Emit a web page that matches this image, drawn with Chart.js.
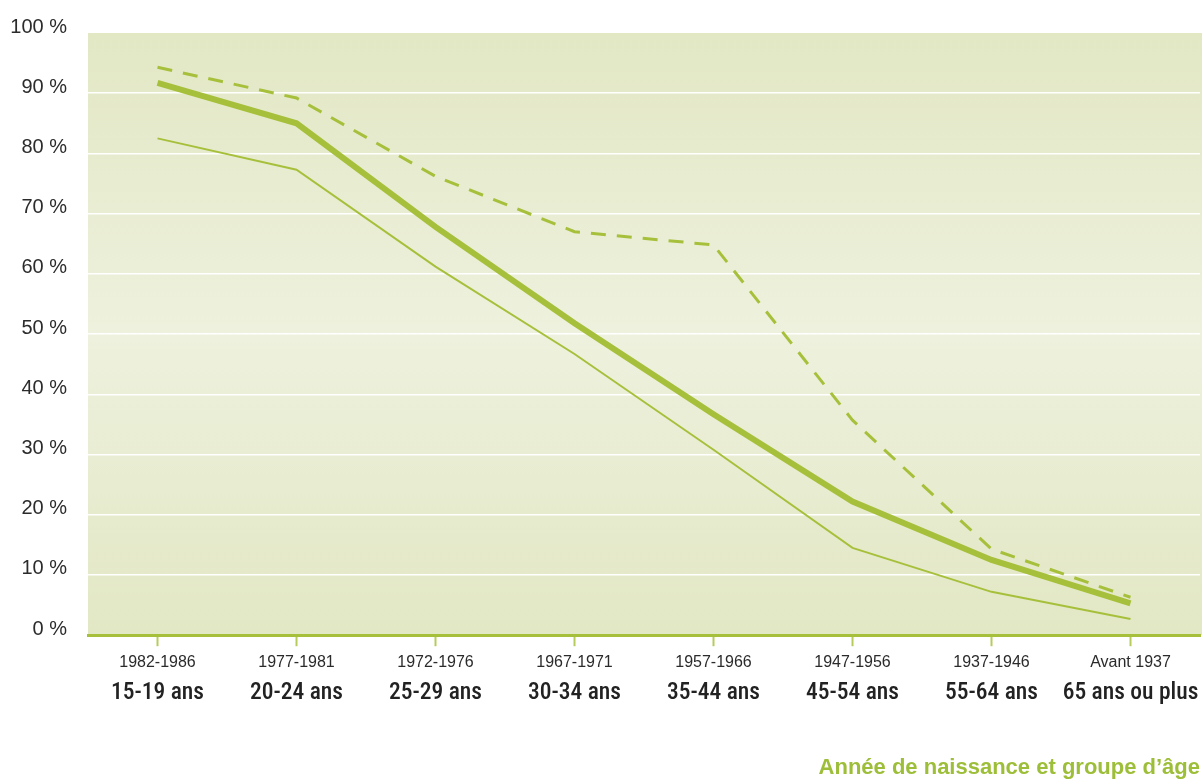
<!DOCTYPE html>
<html>
<head>
<meta charset="utf-8">
<script src="https://cdn.jsdelivr.net/npm/chart.js@4/dist/chart.umd.min.js"></script>
<style>
    html, body { margin: 0; padding: 0; background: #fff; }
    #wrap { width: 1202px; height: 781px; }
</style>
</head>
<body>
<div id="wrap"><canvas id="chart"></canvas></div>
<script>
// Categories: birth years and age groups
const birthYears = ['1982-1986', '1977-1981', '1972-1976', '1967-1971', '1957-1966', '1947-1956', '1937-1946', 'Avant 1937'];
const ageGroups = ['15-19 ans', '20-24 ans', '25-29 ans', '30-34 ans', '35-44 ans', '45-54 ans', '55-64 ans', '65 ans ou plus'];

// Values (%)
const upperValues = [94.3, 89.2, 76.2, 67.0, 64.8, 35.7, 14.3, 6.3];
const mainValues  = [91.7, 85.0, 67.8, 51.8, 36.7, 22.2, 12.5, 5.3];
const lowerValues = [82.5, 77.3, 61.2, 46.7, 30.8, 14.5, 7.2, 2.7];

const green = '#a6c03c';
const textColor = '#2b2b2b';
const fontFamily = '"Liberation Sans", Arial, sans-serif';
const condensedFamily = '"Roboto Condensed", "Liberation Sans", sans-serif';

// Paint the gradient behind the plot area
const plotBackground = {
    id: 'plotBackground',
    beforeDraw: function(chart) {
        const a = chart.chartArea;
        const ctx = chart.ctx;
        let grad = ctx.createLinearGradient(0, a.top, 0, a.bottom);
        grad.addColorStop(0, '#e2e7c4');
        grad.addColorStop(0.5, '#eef1dd');
        grad.addColorStop(1, '#e2e7c4');
        ctx.save();
        ctx.fillStyle = grad;
        ctx.fillRect(a.left, a.top, chart.width - a.left, a.bottom - a.top);
        ctx.restore();
    }
};

new Chart(document.getElementById('chart').getContext('2d'), {
    type: 'line',
    data: {
        labels: birthYears,
        datasets: [
            {
                label: 'upper',
                data: upperValues,
                borderColor: green,
                borderWidth: 3,
                borderDash: [15, 11],
                pointRadius: 0,
                tension: 0,
                fill: false
            },
            {
                label: 'main',
                data: mainValues,
                borderColor: green,
                borderWidth: 6,
                pointRadius: 0,
                tension: 0,
                fill: false
            },
            {
                label: 'lower',
                data: lowerValues,
                borderColor: green,
                borderWidth: 2,
                pointRadius: 0,
                tension: 0,
                fill: false
            }
        ]
    },
    options: {
        responsive: true,
        maintainAspectRatio: false,
        animation: false,
        layout: { padding: { top: 20, right: 2, left: 0, bottom: 0 } },
        plugins: {
            legend: { display: false },
            tooltip: { enabled: false },
            title: {
                display: true,
                text: 'Année de naissance et groupe d’âge',
                position: 'bottom',
                align: 'end',
                color: '#9dbe38',
                font: { family: fontFamily, size: 22, weight: 'bold' },
                padding: { top: 47, bottom: 0 }
            }
        },
        scales: {
            x: {
                type: 'category',
                offset: true,
                weight: 0,
                grid: {
                    offset: false,
                    drawOnChartArea: false,
                    drawTicks: true,
                    tickLength: 11,
                    tickWidth: 2,
                    color: '#b5cc5c'
                },
                border: { display: true, color: green, width: 3 },
                ticks: {
                    color: textColor,
                    font: { family: fontFamily, size: 16 },
                    padding: 7,
                    maxRotation: 0,
                    autoSkip: false
                }
            },
            x2: {
                type: 'category',
                labels: ageGroups,
                position: 'bottom',
                offset: true,
                weight: 1,
                grid: { display: false, drawTicks: false },
                border: { display: false },
                ticks: {
                    color: '#222222',
                    font: { family: condensedFamily, size: 23.5, weight: '500' },
                    padding: 0,
                    maxRotation: 0,
                    autoSkip: false
                }
            },
            y: {
                min: 0,
                max: 100,
                afterFit: function(scale) { scale.width = 88; },
                grid: {
                    color: '#ffffff',
                    lineWidth: function(ctx) { return (ctx.tick && (ctx.tick.value === 0 || ctx.tick.value === 100)) ? 0 : 1.5; },
                    drawTicks: false
                },
                border: { display: false },
                ticks: {
                    stepSize: 10,
                    color: textColor,
                    font: { family: fontFamily, size: 20 },
                    padding: 21,
                    labelOffset: -6,
                    callback: function(v) { return v + ' %'; }
                }
            }
        }
    },
    plugins: [plotBackground]
});
</script>
</body>
</html>
